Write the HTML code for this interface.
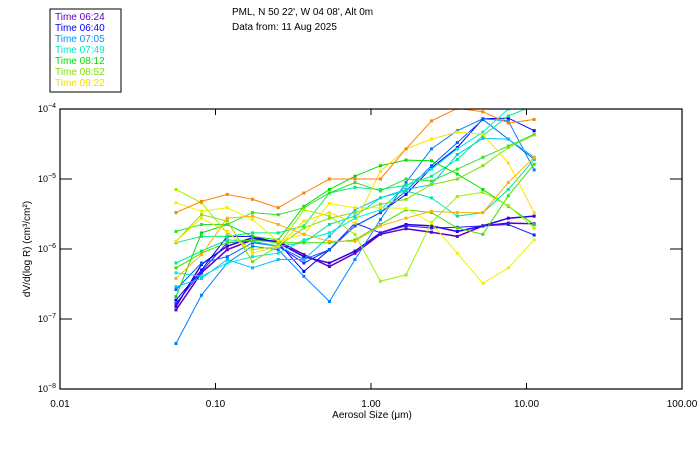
<!DOCTYPE html>
<html><head><meta charset="utf-8"><style>
body{margin:0;background:#fff;}
svg{display:block;font-family:"Liberation Sans",sans-serif;}
</style></head><body>
<svg id="chart" width="700" height="450" viewBox="0 0 700 450">
<rect x="0" y="0" width="700" height="450" fill="#fff"/>
<g>
<rect x="50" y="9" width="71" height="83" fill="#fff" stroke="#000" stroke-width="1"/>
<g id="legendItems" font-size="10"></g>
</g>
<text x="232" y="15" font-size="10" fill="#000">PML, N 50 22', W 04 08', Alt 0m</text>
<text x="232" y="30" font-size="10" fill="#000">Data from: 11 Aug 2025</text>
<defs><clipPath id="plotclip"><rect x="60" y="109" width="622" height="280"/></clipPath></defs>
<g id="series" clip-path="url(#plotclip)"></g>
<rect x="60" y="109" width="622" height="280" fill="none" stroke="#000" stroke-width="1.2"/>
<g id="axes" font-size="10" fill="#000"></g>
<text x="372" y="418" font-size="10" text-anchor="middle">Aerosol Size (μm)</text>
<text transform="translate(30,249) rotate(-90)" font-size="10" text-anchor="middle">dV/d(log R) (cm³/cm²)</text>
</svg>
<script>
const sizes=[0.0557,0.0813,0.119,0.173,0.253,0.370,0.540,0.789,1.15,1.68,2.45,3.59,5.24,7.64,11.2];
const xTicks=[0.01,0.1,1,10,100];
const xTickLabels=["0.01","0.10","1.00","10.00","100.00"];
const yTickExps=[-4,-5,-6,-7,-8];
const legendLabels=["Time 06:24","Time 06:40","Time 07:05","Time 07:49","Time 08:12","Time 08:52","Time 09:22"];
const legendColors=["#6000c0","#0000ff","#0090ff","#00e8c0","#00e000","#80e000","#f0e000"];
const seriesColors=["#6000c0","#3000e0","#0000ff","#2020ff","#0080ff","#0060ff","#00c0ff","#00e8e0","#00e0a0","#00f080","#00e000","#40e000","#30e030","#a0f000","#80e000","#f0f000","#ffe000","#ff8000","#ffb000"];
// log10 of dV/dlogR
const s1=[-6.87,-6.34,-6.01,-5.87,-5.89,-6.08,-6.25,-6.06,-5.79,-5.71,-5.76,-5.82,-5.67,-5.63,-5.64];
const s2=[-6.82,-6.22,-5.96,-5.84,-5.91,-6.11,-6.20,-6.03,-5.77,-5.65,-5.67,-5.75,-5.67,-5.56,-5.53];
const s3=[-6.73,-6.30,-5.82,-5.82,-5.91,-6.32,-6.01,-5.67,-5.48,-5.22,-4.84,-4.55,-4.14,-4.13,-4.31];
const s4=[-6.78,-6.32,-5.91,-5.89,-5.96,-6.20,-6.01,-5.63,-5.77,-5.67,-5.70,-5.69,-5.67,-5.65,-5.80];
const s5=[-7.35,-6.66,-6.20,-5.96,-6.01,-6.39,-6.75,-6.15,-5.58,-5.05,-4.57,-4.31,-4.14,-4.17,-4.87];
const s6=[-6.58,-6.20,-6.11,-5.91,-5.96,-6.15,-6.01,-5.67,-5.48,-5.17,-4.81,-4.48,-4.15,-4.43,-4.72];
const s7=[-6.54,-6.42,-6.15,-6.27,-6.15,-6.15,-5.82,-5.44,-5.27,-5.15,-5.08,-4.65,-4.42,-4.43,-4.69];
const s8=[-6.34,-6.39,-6.20,-6.11,-6.06,-5.87,-5.77,-5.56,-5.44,-5.10,-4.86,-4.57,-4.33,-4.00,-3.81];
const s9=[-6.20,-6.03,-5.87,-5.89,-5.96,-5.91,-5.65,-5.53,-5.27,-5.17,-5.27,-5.53,-5.48,-5.15,-4.72];
const s10=[-5.91,-5.82,-5.82,-5.77,-5.77,-5.67,-5.20,-5.12,-5.15,-5.09,-4.96,-4.72,-4.38,-4.10,-3.95];
const s11=[-6.68,-5.77,-5.65,-5.82,-5.87,-5.39,-5.15,-4.96,-4.81,-4.73,-4.74,-4.93,-5.15,-5.39,-5.65];
const s12=[-6.27,-6.06,-5.91,-5.87,-5.91,-5.91,-5.91,-5.87,-5.65,-5.44,-5.48,-5.70,-5.79,-5.24,-4.79];
const s13=[-5.75,-5.65,-5.65,-5.48,-5.51,-5.41,-5.20,-5.05,-5.17,-5.00,-5.03,-4.86,-4.69,-4.53,-4.36];
const s14=[-5.15,-5.34,-5.77,-6.01,-5.96,-5.44,-5.53,-5.79,-6.46,-6.37,-5.62,-5.25,-5.19,-5.38,-5.70];
const s15=[-5.89,-5.51,-5.60,-6.18,-5.96,-5.70,-5.56,-5.48,-5.36,-5.29,-5.08,-5.00,-4.81,-4.55,-4.37];
const s16=[-5.34,-5.46,-5.41,-5.58,-5.89,-5.79,-5.35,-5.41,-5.41,-5.42,-5.63,-6.06,-6.49,-6.27,-5.87];
const s17=[-5.89,-5.56,-5.75,-6.06,-5.96,-5.60,-5.48,-5.63,-4.89,-4.57,-4.43,-4.33,-4.36,-4.77,-5.48];
const s18=[-5.48,-5.32,-5.22,-5.29,-5.41,-5.20,-5.00,-5.00,-5.00,-4.57,-4.17,-3.99,-4.04,-4.20,-4.15];
const s19=[-6.42,-6.08,-5.56,-5.53,-5.65,-5.79,-5.89,-5.89,-5.67,-5.56,-5.46,-5.48,-5.48,-5.05,-4.69];
const allSeries=[s1,s2,s3,s4,s5,s6,s7,s8,s9,s10,s11,s12,s13,s14,s15,s16,s17,s18,s19];

const NS="http://www.w3.org/2000/svg";
const X0=60,X1=682,Y0=109,Y1=389;
function xs(v){return X0+(Math.log10(v)+2)/4*(X1-X0);}
function ys(e){return Y0+(-4-e)/4*(Y1-Y0);}
function mk(t,a){const e=document.createElementNS(NS,t);for(const k in a)e.setAttribute(k,a[k]);return e;}

const lg=document.getElementById('legendItems');
legendLabels.forEach((l,i)=>{
  const t=mk('text',{x:55,y:20+i*11,fill:legendColors[i]});
  t.textContent=l;
  
  
  lg.appendChild(t);
});

const sg=document.getElementById('series');
allSeries.forEach((s,i)=>{
  const g=mk('g',{});
  
  
  const pts=s.map((v,j)=>xs(sizes[j]).toFixed(1)+','+ys(v).toFixed(1)).join(' ');
  g.appendChild(mk('polyline',{points:pts,fill:'none',stroke:seriesColors[i],'stroke-width':(i<2?1.5:1)}));
  s.forEach((v,j)=>{
    const r=mk('rect',{x:xs(sizes[j])-1.5,y:ys(v)-1.5,width:3,height:3,fill:seriesColors[i]});
    
    
    g.appendChild(r);
  });
  sg.appendChild(g);
});

const ax=document.getElementById('axes');
xTicks.forEach((v,i)=>{
  const x=xs(v);
  if(i>0&&i<xTicks.length-1){
    ax.appendChild(mk('line',{x1:x,x2:x,y1:Y1,y2:Y1-6,stroke:'#000'}));
    ax.appendChild(mk('line',{x1:x,x2:x,y1:Y0,y2:Y0+6,stroke:'#000'}));
  }
  const t=mk('text',{x:x,y:407,'text-anchor':'middle'});
  t.textContent=xTickLabels[i];
  
  
  ax.appendChild(t);
});
yTickExps.forEach((e,i)=>{
  const y=ys(e);
  if(i>0&&i<yTickExps.length-1){
    ax.appendChild(mk('line',{x1:X0,x2:X0+12,y1:y,y2:y,stroke:'#000'}));
    ax.appendChild(mk('line',{x1:X1,x2:X1-12,y1:y,y2:y,stroke:'#000'}));
  }
  const t=mk('text',{x:38,y:y+3,'font-size':9});
  t.textContent='10';
  const sp=mk('tspan',{dy:-4,'font-size':7});
  sp.textContent='−'+(-e);
  t.appendChild(sp);
  
  
  ax.appendChild(t);
});
</script>
</body></html>
